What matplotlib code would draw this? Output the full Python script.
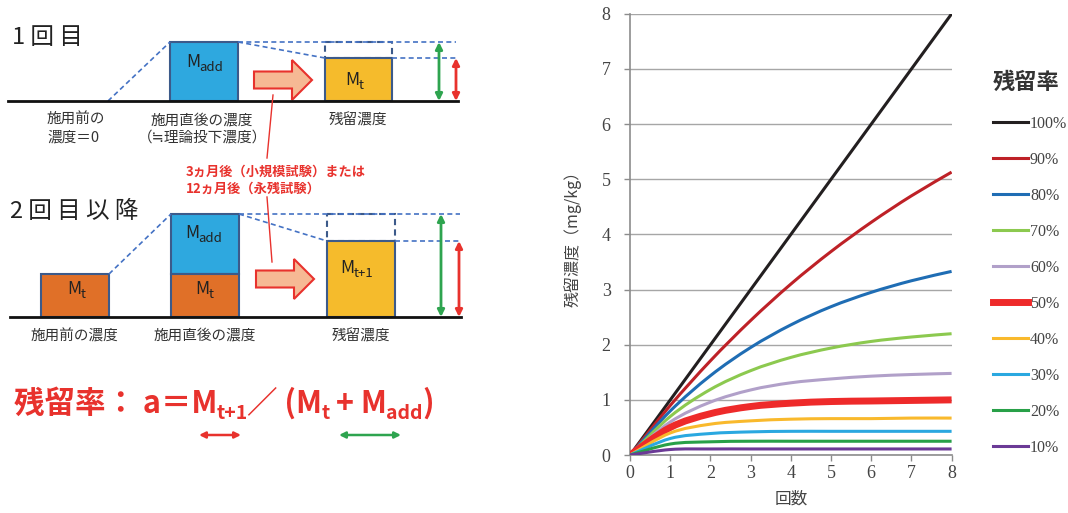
import matplotlib
matplotlib.use("Agg")
import matplotlib.pyplot as plt
from matplotlib.patches import Rectangle, FancyArrow, PathPatch
from matplotlib.lines import Line2D
from matplotlib.path import Path

plt.rcParams['font.family'] = ['Noto Sans CJK JP', 'DejaVu Sans']

# データ / data (残留濃度 mg/kg, 回数 0..8)
kaisu = [0, 1, 2, 3, 4, 5, 6, 7, 8]
labels = ['100%', '90%', '80%', '70%', '60%', '50%', '40%', '30%', '20%', '10%']
r100 = [0, 1.00, 2.00, 3.00, 4.00, 5.00, 6.00, 7.00, 8.00]
r90 = [0, 0.90, 1.71, 2.44, 3.10, 3.69, 4.22, 4.70, 5.13]
r80 = [0, 0.80, 1.44, 1.95, 2.36, 2.69, 2.95, 3.16, 3.33]
r70 = [0, 0.70, 1.19, 1.53, 1.77, 1.94, 2.06, 2.14, 2.20]
r60 = [0, 0.60, 0.96, 1.18, 1.31, 1.38, 1.43, 1.46, 1.48]
r50 = [0, 0.50, 0.75, 0.88, 0.94, 0.97, 0.98, 0.99, 1.00]
r40 = [0, 0.40, 0.56, 0.62, 0.65, 0.66, 0.66, 0.67, 0.67]
r30 = [0, 0.30, 0.39, 0.42, 0.43, 0.43, 0.43, 0.43, 0.43]
r20 = [0, 0.20, 0.24, 0.25, 0.25, 0.25, 0.25, 0.25, 0.25]
r10 = [0, 0.10, 0.11, 0.11, 0.11, 0.11, 0.11, 0.11, 0.11]
series = [r100, r90, r80, r70, r60, r50, r40, r30, r20, r10]
colors = ['#231f20', '#be2127', '#1f6db4', '#8cc94f', '#b1a0c9',
          '#ee2a2a', '#f9b92c', '#2aa8e0', '#28a048', '#6b3a96']
widths = [2.2, 2.2, 2.2, 2.2, 2.2, 5.0, 2.2, 2.2, 2.2, 2.2]

RED = '#e8322d'
GREEN = '#2ea44f'
DASH = '#4472c4'
EDGE = '#3c5a8a'
BLUE = '#2ea8df'
ORANGE = '#e07028'
YELLOW = '#f5bb2c'

fig = plt.figure(figsize=(10.68, 5.13), dpi=100)

# 左の説明図 / left diagram (pixel coords)
d = fig.add_axes([0, 0, 1, 1])
d.set_xlim(0, 1068)
d.set_ylim(513, 0)
d.axis('off')


def rect(x0, y0, x1, y1, fc, ls='-'):
    d.add_patch(Rectangle((x0, y0), x1 - x0, y1 - y0, facecolor=fc,
                          edgecolor=EDGE, lw=1.5, ls=ls))


def dash(x0, y0, x1, y1):
    d.plot([x0, x1], [y0, y1], color=DASH, lw=1.2, ls=(0, (3, 2)))


def darrow(x, y0, y1, c, lw=2):
    d.annotate('', xy=(x, y0), xytext=(x, y1),
               arrowprops=dict(arrowstyle='<|-|>', color=c, lw=lw,
                               shrinkA=0, shrinkB=0, mutation_scale=10))


def harrow(x0, x1, y, c):
    d.annotate('', xy=(x0, y), xytext=(x1, y),
               arrowprops=dict(arrowstyle='<|-|>', color=c, lw=1.8,
                               shrinkA=0, shrinkB=0, mutation_scale=9))


def block_arrow(x, y):
    d.add_patch(FancyArrow(x, y, 58, 0, width=17, head_width=40,
                           head_length=20, length_includes_head=True,
                           facecolor='#f6b994', edgecolor=RED, lw=1.5))


def chain(x, y, pieces, color, weight='normal', sub_drop=5):
    # pieces: (text, is_sub, size); baseline y in pixels
    prev = None
    for txt, is_sub, sz in pieces:
        yy = y + sub_drop if is_sub else y
        if prev is None:
            prev = d.text(x, yy, txt, fontsize=sz, color=color,
                          weight=weight, ha='left', va='baseline')
        else:
            prev = d.annotate(txt, xy=(1, yy), xycoords=(prev, 'data'),
                              xytext=(-0.5, 0), textcoords='offset points',
                              fontsize=sz, color=color, weight=weight,
                              ha='left', va='baseline')
    return prev


def mtext(x, y, sub):
    chain(x, y, [('M', False, 12.5), (sub, True, 9.5)], '#222', sub_drop=4)


# 1回目
d.text(12, 37, '1 回 目', fontsize=17, color='#222', va='center')
dash(108, 101, 170, 42)
dash(238, 42, 456, 42)
dash(238, 42, 325, 58)
dash(392, 58, 456, 58)
rect(325, 42, 392, 58, 'none', ls=(0, (3, 2)))
rect(170, 42, 238, 101, BLUE)
rect(325, 58, 392, 101, YELLOW)
d.plot([8, 458], [101, 101], color='#111', lw=2)
mtext(186, 67, 'add')
mtext(345, 85, 't')
block_arrow(254, 80)
darrow(439, 42, 101, GREEN)
darrow(456, 58, 101, RED)
d.text(47, 129, '施用前の\n濃度＝0', fontsize=10.5, color='#333',
       ha='left', va='center', linespacing=1.35)
d.text(202, 129, '施用直後の濃度\n（≒理論投下濃度）', fontsize=10.5,
       color='#333', ha='center', va='center', linespacing=1.35)
d.text(358, 120, '残留濃度', fontsize=10.5, color='#333',
       ha='center', va='center')
d.plot([273, 267], [95, 158], color=RED, lw=1)
d.text(186, 180, '3ヵ月後（小規模試験）または\n12ヵ月後（永残試験）',
       fontsize=9.5, color=RED, weight='bold', ha='left', va='center',
       linespacing=1.3)

# 2回目以降
d.text(10, 212, '2 回 目 以 降', fontsize=17, color='#222', va='center')
dash(109, 274, 171, 214)
dash(239, 214, 460, 214)
dash(239, 214, 327, 241)
dash(395, 241, 460, 241)
rect(327, 214, 395, 241, 'none', ls=(0, (3, 2)))
rect(41, 274, 109, 317, ORANGE)
rect(171, 214, 239, 274, BLUE)
rect(171, 274, 239, 317, ORANGE)
rect(327, 241, 395, 317, YELLOW)
d.plot([10, 461], [317, 317], color='#111', lw=2)
mtext(67, 294, 't')
mtext(185, 238, 'add')
mtext(195, 294, 't')
mtext(340, 273, 't+1')
d.plot([267, 272], [197, 262], color=RED, lw=1)
block_arrow(256, 279)
darrow(441, 214, 317, GREEN)
darrow(459, 241, 317, RED)
d.text(74, 336, '施用前の濃度', fontsize=10.5, color='#333',
       ha='center', va='center')
d.text(205, 336, '施用直後の濃度', fontsize=10.5, color='#333',
       ha='center', va='center')
d.text(361, 336, '残留濃度', fontsize=10.5, color='#333',
       ha='center', va='center')

# 残留率の式 / formula
chain(14, 413, [('残留率： a＝M', False, 22), ('t+1', True, 14),
                ('／ (M', False, 22), ('t', True, 14), (' + M', False, 22),
                ('add', True, 14), (')', False, 22)],
      RED, weight='bold', sub_drop=6)
harrow(199, 241, 435, RED)
harrow(339, 401, 435, GREEN)


# Excel風のスムージング線 / smoothed line (Bezier through the points)
def smooth_path(xs, ys):
    n = len(xs)
    verts = [(xs[0], ys[0])]
    codes = [Path.MOVETO]
    for i in range(n - 1):
        a = max(i - 1, 0)
        b = min(i + 2, n - 1)
        c1 = (xs[i] + (xs[i + 1] - xs[a]) / 6, ys[i] + (ys[i + 1] - ys[a]) / 6)
        c2 = (xs[i + 1] - (xs[b] - xs[i]) / 6, ys[i + 1] - (ys[b] - ys[i]) / 6)
        verts += [c1, c2, (xs[i + 1], ys[i + 1])]
        codes += [Path.CURVE4] * 3
    return Path(verts, codes)


# 右のグラフ / right chart
ax = fig.add_axes([0.590, 0.113, 0.301, 0.860])
handles = []
for ys, c, w, lab in zip(series, colors, widths, labels):
    ax.add_patch(PathPatch(smooth_path(kaisu, ys), facecolor='none',
                           edgecolor=c, lw=w, capstyle='butt', zorder=3))
    handles.append(Line2D([], [], color=c, lw=w, label=lab))
ax.set_xlim(0, 8)
ax.set_ylim(0, 8)
ax.set_xticks(range(0, 9))
ax.set_yticks(range(0, 9))
ax.grid(axis='y', color='#a6a6a6', lw=1)
ax.set_axisbelow(True)
for s in ['top', 'right']:
    ax.spines[s].set_visible(False)
for s in ['left', 'bottom']:
    ax.spines[s].set_color('#8c8c8c')
    ax.spines[s].set_linewidth(1.2)
ax.tick_params(colors='#8c8c8c', labelcolor='#444', length=4, width=1)
for lab in ax.get_xticklabels() + ax.get_yticklabels():
    lab.set_fontfamily('Liberation Serif')
    lab.set_fontsize(13)
ax.tick_params(axis='y', pad=10)
ax.set_xlabel('回数', fontsize=12, color='#444', labelpad=6)
ax.set_ylabel('残留濃度（mg/kg）', fontsize=11.5, color='#444', labelpad=14)

leg = ax.legend(handles=handles, loc='upper left',
                bbox_to_anchor=(0.930, 0.862),
                bbox_transform=fig.transFigure, frameon=False,
                title='残留率', handlelength=2.2, handletextpad=0.1,
                labelspacing=1.25, borderpad=0, borderaxespad=0,
                alignment='left',
                prop={'family': 'Liberation Serif', 'size': 11.5})
leg.get_title().set_fontsize(16)
leg.get_title().set_weight('bold')
leg.get_title().set_color('#333')
leg._legend_box.sep = 16
for t in leg.get_texts():
    t.set_color('#444')

fig.savefig('out.png', dpi=100)
